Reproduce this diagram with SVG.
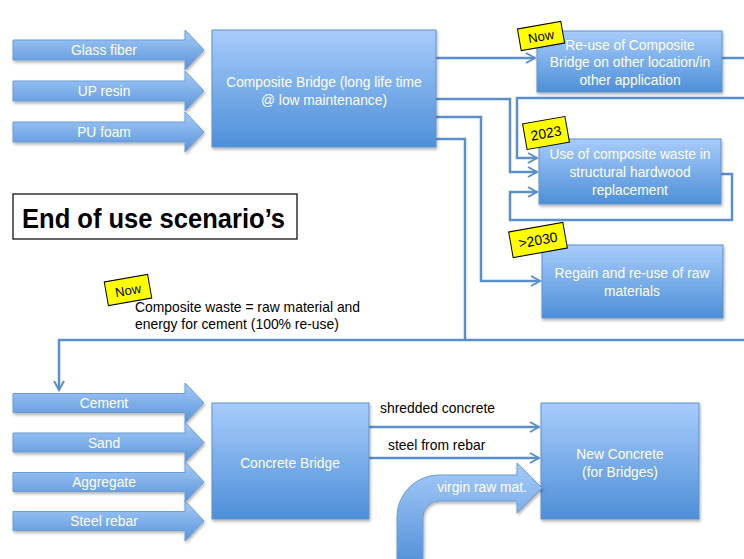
<svg xmlns="http://www.w3.org/2000/svg" width="744" height="559" viewBox="0 0 744 559">
<defs>
<linearGradient id="gBox" x1="0" y1="0" x2="0" y2="1">
<stop offset="0" stop-color="#a8ccfb"/>
<stop offset="1" stop-color="#4d8fd8"/>
</linearGradient>
<linearGradient id="gArr" x1="0" y1="0" x2="0" y2="1">
<stop offset="0" stop-color="#a6cbf9"/>
<stop offset="1" stop-color="#5793d9"/>
</linearGradient>
<filter id="sh" x="-10%" y="-10%" width="130%" height="130%">
<feDropShadow dx="1" dy="2" stdDeviation="1.5" flood-color="#000" flood-opacity="0.3"/>
</filter>
<marker id="ah" markerUnits="userSpaceOnUse" markerWidth="14" markerHeight="14" viewBox="0 0 14 14" refX="12" refY="7" orient="auto">
<path d="M3,2 L12,7 L3,12" fill="none" stroke="#5b8fcc" stroke-width="2"/>
</marker>
</defs>
<style>
.box{fill:url(#gBox);stroke:#5f92cc;stroke-width:1;filter:url(#sh)}
.arr{fill:url(#gArr);stroke:#6b9dd6;stroke-width:1;filter:url(#sh)}
.wt{font-family:"Liberation Sans",Arial,sans-serif;font-size:13.8px;fill:#ffffff;text-anchor:middle}
.bt{font-family:"Liberation Sans",Arial,sans-serif;font-size:13.9px;fill:#000000}
.ln{fill:none;stroke:#5b8fcc;stroke-width:2.5}
.tag{fill:#ffff00;stroke:#000;stroke-width:1}
.tt{font-family:"Liberation Sans",Arial,sans-serif;font-size:13px;fill:#000;text-anchor:middle}
</style>
<rect width="744" height="559" fill="#ffffff"/>

<g id="connectors">
<path class="ln" d="M436,58 L535,58" marker-end="url(#ah)"/>
<path class="ln" d="M722,58 L744,58"/>
<path class="ln" d="M744,98 L517,98 L517,158 L537,158" marker-end="url(#ah)"/>
<path class="ln" d="M436,99 L510,99 L510,172 L537,172" marker-end="url(#ah)"/>
<path class="ln" d="M721,174 L732,174 L732,220 L510,220 L510,192 L537,192" marker-end="url(#ah)"/>
<path class="ln" d="M436,117 L481,117 L481,281 L540,281" marker-end="url(#ah)"/>
<path class="ln" d="M436,139 L465,139 L465,340"/>
<path class="ln" d="M744,340 L59,340 L59,390" marker-end="url(#ah)"/>
<path class="ln" d="M369,427 L539,427" marker-end="url(#ah)"/>
<path class="ln" d="M369,458 L539,458" marker-end="url(#ah)"/>
</g>

<g id="in-glass">
<polygon class="arr" points="13,40 185,40 185,30 204,50 185,70 185,60 13,60"/>
<text class="wt" x="104" y="55">Glass fiber</text>
</g>
<g id="in-up">
<polygon class="arr" points="13,81 185,81 185,71 204,91 185,111 185,101 13,101"/>
<text class="wt" x="104" y="96">UP resin</text>
</g>
<g id="in-pu">
<polygon class="arr" points="13,122 185,122 185,112 204,132 185,152 185,142 13,142"/>
<text class="wt" x="104" y="137">PU foam</text>
</g>

<g id="composite-bridge">
<rect class="box" x="212" y="30" width="224" height="117"/>
<text class="wt" x="324" y="87">Composite Bridge (long life time</text>
<text class="wt" x="324" y="105">@ low maintenance)</text>
</g>

<g id="reuse">
<rect class="box" x="537" y="31" width="185" height="61"/>
<text class="wt" x="630" y="50">Re-use of Composite</text>
<text class="wt" x="630" y="67">Bridge on other location/in</text>
<text class="wt" x="630" y="85">other application</text>
</g>
<g id="tag-now1">
<g transform="translate(541,36) rotate(-10)">
<rect class="tag" x="-22" y="-11" width="44" height="22"/>
<text class="tt" x="0" y="5">Now</text>
</g>
</g>

<g id="hardwood">
<rect class="box" x="539" y="139" width="182" height="65"/>
<text class="wt" x="630" y="159">Use of composite waste in</text>
<text class="wt" x="630" y="177">structural hardwood</text>
<text class="wt" x="630" y="195">replacement</text>
</g>
<g id="tag-2023">
<g transform="translate(546,133) rotate(-10)">
<rect class="tag" x="-21.5" y="-13" width="43" height="26"/>
<text class="tt" x="0" y="5" style="font-size:14px">2023</text>
</g>
</g>

<g id="regain">
<rect class="box" x="542" y="245" width="181" height="73"/>
<text class="wt" x="632" y="278">Regain and re-use of raw</text>
<text class="wt" x="632" y="296">materials</text>
</g>
<g id="tag-2030">
<g transform="translate(538,240) rotate(-10)">
<rect class="tag" x="-27.5" y="-13" width="55" height="26"/>
<text class="tt" x="0" y="5" style="font-size:14px">&gt;2030</text>
</g>
</g>

<g id="title">
<rect x="13" y="194" width="284" height="45" fill="#ffffff" stroke="#000" stroke-width="1.2"/>
<text x="22" y="228" textLength="263" lengthAdjust="spacingAndGlyphs" style="font-family:'Liberation Sans',Arial,sans-serif;font-size:27.5px;font-weight:bold;fill:#000">End of use scenario’s</text>
</g>

<g id="tag-now2">
<g transform="translate(128,290) rotate(-10)">
<rect class="tag" x="-22" y="-12" width="44" height="24"/>
<text class="tt" x="0" y="5">Now</text>
</g>
</g>
<g id="cement-note">
<text class="bt" x="135" y="312">Composite waste = raw material and</text>
<text class="bt" x="135" y="329">energy for cement (100% re-use)</text>
</g>

<g id="in-cement">
<polygon class="arr" points="13,393.5 185,393.5 185,383 204,403 185,423 185,412.5 13,412.5"/>
<text class="wt" x="104" y="408">Cement</text>
</g>
<g id="in-sand">
<polygon class="arr" points="13,433 185,433 185,422.5 204,442.5 185,462.5 185,452 13,452"/>
<text class="wt" x="104" y="447.5">Sand</text>
</g>
<g id="in-aggregate">
<polygon class="arr" points="13,472.5 185,472.5 185,462 204,482 185,502 185,491.5 13,491.5"/>
<text class="wt" x="104" y="487">Aggregate</text>
</g>
<g id="in-steel">
<polygon class="arr" points="13,511.5 185,511.5 185,501 204,521 185,541 185,530.5 13,530.5"/>
<text class="wt" x="104" y="526">Steel rebar</text>
</g>

<g id="concrete-bridge">
<rect class="box" x="212" y="403" width="157" height="116"/>
<text class="wt" x="290" y="468">Concrete Bridge</text>
</g>

<g id="flow-labels">
<text class="bt" x="380" y="413">shredded concrete</text>
<text class="bt" x="388" y="450">steel from rebar</text>
</g>

<g id="new-concrete">
<rect class="box" x="541" y="403" width="158" height="116"/>
<text class="wt" x="620" y="459">New Concrete</text>
<text class="wt" x="620" y="477">(for Bridges)</text>
</g>

<g id="virgin">
<path class="arr" d="M397,560 L397,517 A42,42 0 0 1 439,475 L517,475 L517,463 L542,488 L517,513 L517,501 L439,501 A16,16 0 0 0 423,517 L423,560 Z"/>
<text class="wt" x="482" y="492" style="text-anchor:middle">virgin raw mat.</text>
</g>
</svg>
